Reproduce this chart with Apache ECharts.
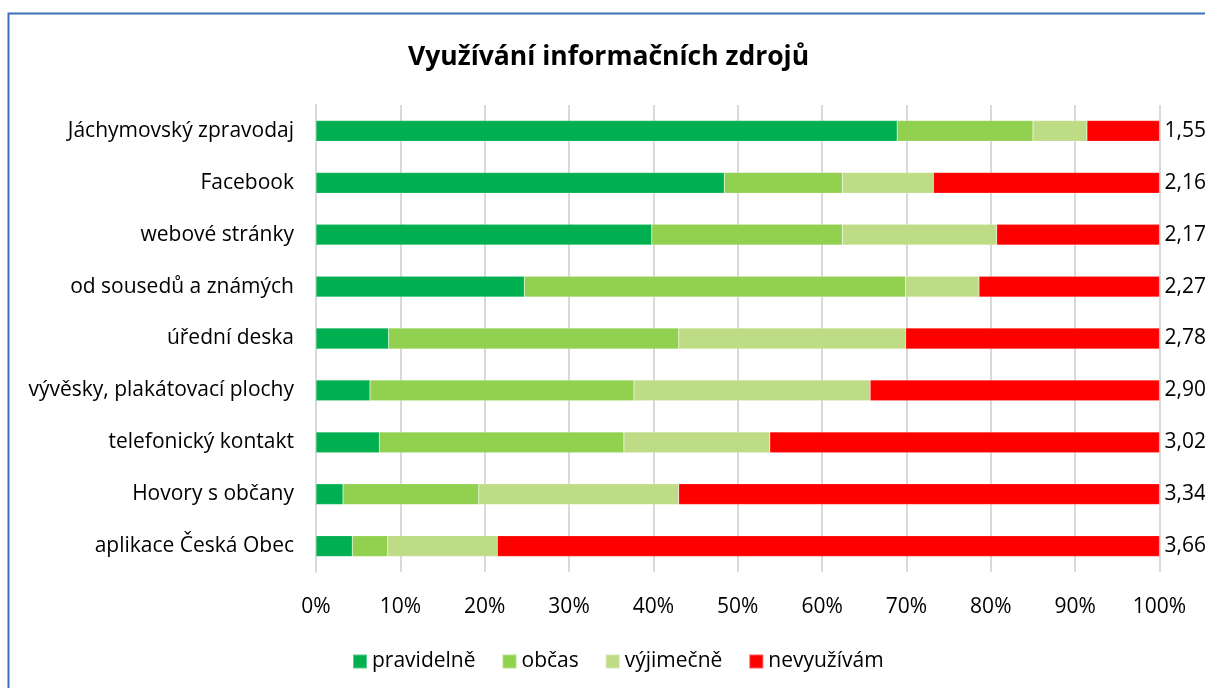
<!DOCTYPE html>
<html>
<head>
<meta charset="utf-8">
<script src="https://cdn.jsdelivr.net/npm/echarts@6/dist/echarts.min.js"></script>
<style>
html,body{margin:0;padding:0;background:#fff;}
#c{width:1205px;height:688px;}
</style>
</head>
<body>
<div id="c"></div>
<script>
const categories = ["Jáchymovský zpravodaj","Facebook","webové stránky","od sousedů a známých","úřední deska","vývěsky, plakátovací plochy","telefonický kontakt","Hovory s občany","aplikace Česká Obec"];
const pravidelne = [68.9, 48.4, 39.8, 24.7, 8.6, 6.4, 7.5, 3.2, 4.3];
const obcas      = [16.1, 14.0, 22.6, 45.2, 34.4, 31.3, 29.0, 16.1, 4.2];
const vyjimecne  = [6.4, 10.8, 18.3, 8.7, 26.9, 28.0, 17.3, 23.7, 13.0];
const nevyuzivam = [8.6, 26.8, 19.3, 21.4, 30.1, 34.3, 46.2, 57.0, 78.5];
const scores     = ["1,55","2,16","2,17","2,27","2,78","2,90","3,02","3,34","3,66"];
const seriesNames = ["pravidelně","občas","výjimečně","nevyužívám"];
const colors = ["#00B050","#92D050","#BEDC85","#FF0000"];

const FONT = "Open Sans";
const chart = echarts.init(document.getElementById('c'), null, {renderer:'canvas'});
const data = [pravidelne, obcas, vyjimecne, nevyuzivam];
const series = data.map((d,i)=>({
  name: seriesNames[i],
  type: 'bar',
  stack: 'total',
  barWidth: '40%',
  data: d,
  itemStyle: {color: colors[i], borderColor: 'rgba(255,255,255,0.35)', borderWidth: 0.5},
  label: i===3 ? {
    show: true, position: 'right', distance: 5,
    formatter: p => scores[p.dataIndex],
    color: '#000', fontSize: 21, fontFamily: FONT
  } : {show:false},
  emphasis: {disabled: true}
}));

chart.setOption({
  animation: false,
  backgroundColor: '#fff',
  title: {
    text: 'Využívání informačních zdrojů',
    left: 403, top: 39,
    textStyle: {fontFamily: FONT, fontWeight: 'bold', fontSize: 26.5, color: '#000'}
  },
  legend: {
    top: 646, left: 347,
    itemWidth: 14, itemHeight: 14, itemGap: 26,
    icon: 'rect',
    textStyle: {fontFamily: FONT, fontSize: 21, color: '#000'},
    data: seriesNames
  },
  grid: {left: 316, right: 45.5, top: 105, bottom: 116, containLabel: false},
  xAxis: {
    type: 'value', min: 0, max: 100, interval: 10,
    axisLabel: {formatter: '{value}%', fontFamily: FONT, fontSize: 21, color: '#000', margin: 25},
    splitLine: {show: true, lineStyle: {color: '#d9d9d9', width: 2}},
    axisLine: {show: false}, axisTick: {show: false}
  },
  yAxis: {
    type: 'category', data: categories, inverse: true,
    axisLabel: {fontFamily: FONT, fontSize: 21, color: '#000', margin: 22},
    axisLine: {show: true, lineStyle: {color: '#d9d9d9', width: 2}},
    axisTick: {show: false}
  },
  graphic: [{
    type: 'rect', silent: true,
    shape: {x: 8.5, y: 13.5, width: 1400, height: 900},
    style: {fill: 'none', stroke: '#3B70B5', lineWidth: 2},
    z: 100
  }],
  series: series
});
</script>
</body>
</html>
